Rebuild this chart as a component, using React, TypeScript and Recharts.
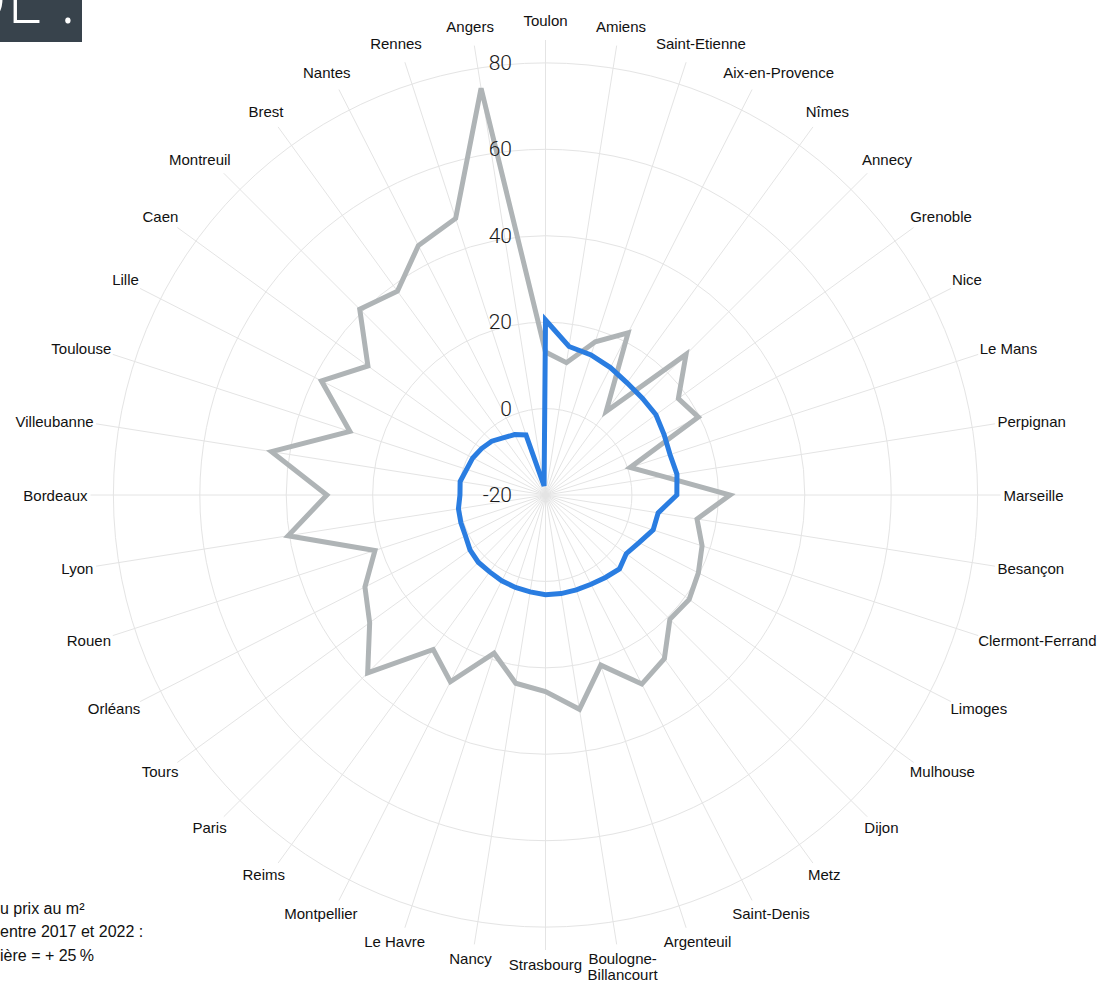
import React from 'react';
import { RadarChart, Radar, PolarGrid, PolarAngleAxis, PolarRadiusAxis } from 'recharts';

const cities = [
  'Toulon', 'Amiens', 'Saint-Etienne', 'Aix-en-Provence', 'Nîmes', 'Annecy', 'Grenoble', 'Nice',
  'Le Mans', 'Perpignan', 'Marseille', 'Besançon', 'Clermont-Ferrand', 'Limoges', 'Mulhouse', 'Dijon',
  'Metz', 'Saint-Denis', 'Argenteuil', 'Boulogne-Billancourt', 'Strasbourg', 'Nancy', 'Le Havre',
  'Montpellier', 'Reims', 'Paris', 'Tours', 'Orléans', 'Rouen', 'Lyon', 'Bordeaux', 'Villeubanne',
  'Toulouse', 'Lille', 'Caen', 'Montreuil', 'Brest', 'Nantes', 'Rennes', 'Angers',
];

const greySeries = [
  13.1, 11.0, 17.3, 22.1, 3.9, 26.0, 18.0, 19.7, 0.6, 7.5,
  22.7, 15.5, 18.1, 19.7, 21.1, 20.7, 26.8, 29.1, 21.4, 30.2,
  25.5, 24.1, 18.5, 28.5, 24.2, 38.2, 30.3, 26.9, 21.5, 40.3,
  30.6, 44.2, 27.6, 38.2, 30.8, 40.8, 38.3, 44.8, 47.3, 75.3,
];

const blueSeries = [
  20.5, 14.8, 14.1, 13.1, 12.1, 11.7, 11.6, 10.8, 10.3, 10.8,
  10.4, 6.4, 6.2, 4.3, 3.1, 4.2, 3.6, 3.2, 3.1, 3.1,
  3.1, 2.7, 2.5, 2.3, 2.0, 2.0, 1.6, 0.8, 0.6, 0.4,
  -0.2, 0.0, -0.8, -1.1, -1.7, -2.4, -3.6, -4.3, -5.4, -17.9,
];

const radiusTicks = [-20, 0, 20, 40, 60, 80];
const radiusDomain = [-20, 85.3];
const noteLines = ['u prix au m²', 'entre 2017 et 2022 :', 'ière = + 25\u2009%'];
const badgeGlyphs = ['D', 'E', '.'];

const data = cities.map((city, i) => ({ city, grey: greySeries[i], blue: blueSeries[i] }));

const W = 1097;
const H = 987;
const CX = 545.5;
const CY = 495;
const OUTER = 455;

const LABEL_SIZE = 15;
const LABEL_FAMILY = '"Liberation Sans", Arial, Helvetica, sans-serif';

let measureCtx: CanvasRenderingContext2D | null = null;
function measure(text: string): number {
  try {
    if (!measureCtx) measureCtx = document.createElement('canvas').getContext('2d');
    if (measureCtx) {
      measureCtx.font = `${LABEL_SIZE}px "Liberation Sans", Arial, sans-serif`;
      return measureCtx.measureText(text).width;
    }
  } catch (e) {
    /* ignore */
  }
  return text.length * 7.5;
}

function CityTick(props: any) {
  const { x, y, payload } = props;
  const label = String(payload.value);
  const theta = ((90 - payload.coordinate) * Math.PI) / 180;
  const s = Math.sin(theta);
  const c = Math.cos(theta);
  let lines = [label];
  if (measure(label) > 125 && label.includes('-')) {
    const k = label.lastIndexOf('-');
    lines = [label.slice(0, k + 1), label.slice(k + 1)];
  }
  const w = Math.max(...lines.map(measure));
  const lh = 16;
  const tx = x + (w / 2) * s;
  const ty = y - ((lh * lines.length) / 2 + 6) * c - 3 * Math.abs(c);
  const top = ty - ((lines.length - 1) * lh) / 2;
  return (
    <text
      x={tx}
      y={top}
      textAnchor="middle"
      dominantBaseline="central"
      fontSize={LABEL_SIZE}
      fontFamily={LABEL_FAMILY}
      fill="#111"
    >
      {lines.map((l, i) => (
        <tspan key={i} x={tx} dy={i === 0 ? 0 : lh}>
          {l}
        </tspan>
      ))}
    </text>
  );
}

function ValueTick(props: any) {
  const { x, y, payload } = props;
  return (
    <text
      x={x - 33.5}
      y={y}
      textAnchor="end"
      dominantBaseline="central"
      fontSize={21}
      fontWeight={300}
      fontFamily="Roboto, 'Liberation Sans', sans-serif"
      fill="#1a1a1a"
    >
      {payload.value}
    </text>
  );
}

export default function App() {
  return (
    <div style={{ position: 'absolute', left: 0, top: 0, width: W, height: H, background: '#fff' }}>
      <RadarChart
        width={W}
        height={H}
        data={data}
        cx={CX}
        cy={CY}
        outerRadius={OUTER}
        innerRadius={0}
        startAngle={90}
        endAngle={-270}
        margin={{ top: 0, right: 0, bottom: 0, left: 0 }}
      >
        <PolarGrid gridType="circle" stroke="#e4e4e4" strokeWidth={1} />
        <PolarAngleAxis
          dataKey="city"
          tick={<CityTick />}
          tickLine={false}
          axisLine={false}
          tickSize={3}
        />
        <PolarRadiusAxis
          angle={90}
          domain={radiusDomain}
          ticks={radiusTicks}
          type="number"
          axisLine={false}
          tickLine={false}
          tick={<ValueTick />}
        />
        <Radar
          dataKey="grey"
          stroke="#afb4b6"
          strokeWidth={5}
          strokeLinejoin="miter"
          fill="none"
          fillOpacity={0}
          dot={false}
          isAnimationActive={false}
        />
        <Radar
          dataKey="blue"
          stroke="#2a7de1"
          strokeWidth={5}
          strokeLinejoin="miter"
          fill="none"
          fillOpacity={0}
          dot={false}
          isAnimationActive={false}
        />
      </RadarChart>
      <svg
        width={W}
        height={H}
        style={{ position: 'absolute', left: 0, top: 0, pointerEvents: 'none' }}
      >
        <rect x={0} y={0} width={82} height={42} fill="#38434c" />
        <text
          y={23}
          fontSize={66}
          fontWeight={300}
          fontFamily="'Open Sans', sans-serif"
          fill="#fff"
        >
          <tspan x={-40}>{badgeGlyphs[0]}</tspan>
          <tspan x={7}>{badgeGlyphs[1]}</tspan>
          <tspan x={60}>{badgeGlyphs[2]}</tspan>
        </text>
        {noteLines.map((t, i) => (
          <text
            key={i}
            x={0}
            y={908 + i * 23.5}
            dominantBaseline="central"
            fontSize={16}
            fontFamily={LABEL_FAMILY}
            fill="#111"
          >
            {t}
          </text>
        ))}
      </svg>
    </div>
  );
}
